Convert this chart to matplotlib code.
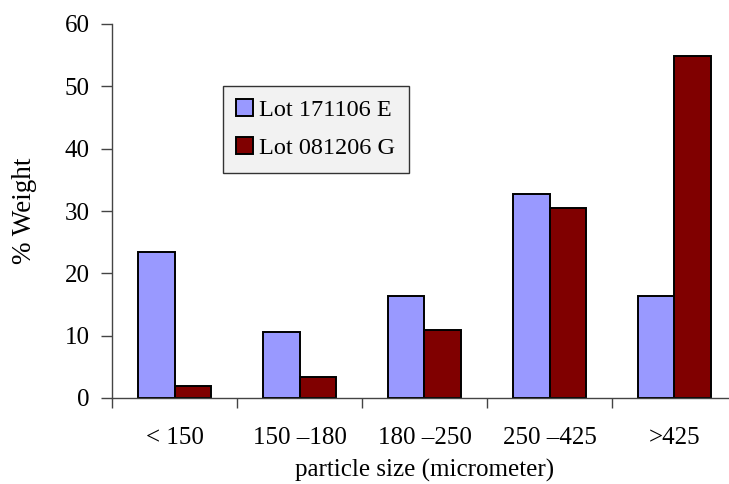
import matplotlib.pyplot as plt
import numpy as np

plt.rcParams.update({
    "font.family": "Liberation Serif",
    "font.size": 18,
})

# Sieve fractions and their weight share per lot
size_classes = ["< 150", "150 \u2013180", "180 \u2013250", "250 \u2013425", ">425"]
lot_names = ["Lot 171106 E", "Lot 081206 G"]
lot_e = [23.4, 10.6, 16.3, 32.7, 16.4]
lot_g = [2.0, 3.3, 10.9, 30.5, 54.9]

colors = ["#9999FF", "#800000"]

fig = plt.figure(figsize=(7.29, 4.84), dpi=100)
ax = fig.add_axes([112 / 729, 86 / 484, 625 / 729, 374 / 484])

x = np.arange(len(size_classes)) + 0.5
width = 0.29
ax.bar(x - width / 2, lot_e, width, color=colors[0], edgecolor="black",
       linewidth=1.4, label=lot_names[0])
ax.bar(x + width / 2, lot_g, width, color=colors[1], edgecolor="black",
       linewidth=1.4, label=lot_names[1])

ax.set_xlim(0, len(size_classes))
ax.set_ylim(0, 60)
ax.set_yticks(np.arange(0, 61, 10))

# boundaries get the tick marks, centres get the labels
ax.set_xticks(np.arange(len(size_classes) + 1))
ax.set_xticklabels([])
ax.set_xticks(x, minor=True)
ax.set_xticklabels(size_classes, minor=True)
ax.tick_params(axis="x", which="minor", length=0, pad=21)
ax.tick_params(axis="x", which="major", length=7, width=1, color="#444444")
ax.tick_params(axis="y", length=8, width=1, color="#444444", pad=8)

for side in ["top", "right"]:
    ax.spines[side].set_visible(False)
for side in ["left", "bottom"]:
    ax.spines[side].set_color("#444444")
    ax.spines[side].set_linewidth(1.0)

ax.set_ylabel("% Weight", fontsize=19.5, labelpad=20)
ax.set_xlabel("particle size (micrometer)", labelpad=7)

leg = ax.legend(loc="upper left", bbox_to_anchor=(111 / 625, 312 / 374),
                frameon=True, fancybox=False, edgecolor="#333333",
                facecolor="#F2F2F2", framealpha=1, handlelength=0.7,
                handleheight=0.7, handletextpad=0.25, borderpad=0.55,
                labelspacing=0.65, borderaxespad=0, fontsize=17.5)
leg.get_frame().set_linewidth(1.0)

plt.savefig("out.png", dpi=100)
plt.close()
